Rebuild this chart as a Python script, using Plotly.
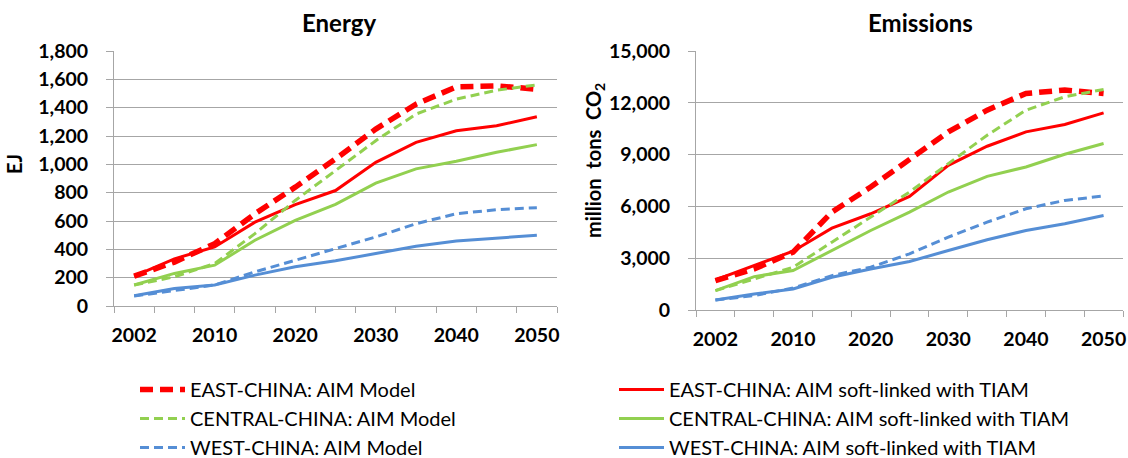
import plotly.graph_objects as go

years = ["2002", "2005", "2010", "2015", "2020", "2025", "2030", "2035", "2040", "2045", "2050"]
tick_years = ["2002", "2010", "2020", "2030", "2040", "2050"]

# Energy (EJ)
energy_east_aim = [211, 310, 440, 651, 839, 1038, 1249, 1425, 1547, 1554, 1530]
energy_central_aim = [148, 206, 300, 511, 745, 956, 1167, 1355, 1460, 1523, 1561]
energy_west_aim = [70, 108, 148, 241, 323, 405, 487, 581, 651, 680, 694]
energy_east_tiam = [211, 333, 417, 592, 716, 815, 1014, 1155, 1237, 1272, 1336]
energy_central_tiam = [148, 230, 288, 464, 605, 717, 867, 968, 1022, 1085, 1139]
energy_west_tiam = [73, 124, 148, 218, 277, 319, 370, 422, 459, 478, 499]

# Emissions (million tons CO2)
emis_east_aim = [1700, 2380, 3350, 5670, 7122, 8767, 10316, 11574, 12542, 12735, 12542]
emis_central_aim = [1123, 1800, 2477, 3929, 5380, 6832, 8477, 10122, 11574, 12348, 12774]
emis_west_aim = [580, 832, 1277, 1993, 2477, 3252, 4219, 5090, 5864, 6348, 6600]
emis_east_tiam = [1742, 2574, 3406, 4742, 5574, 6580, 8380, 9484, 10316, 10742, 11419]
emis_central_tiam = [1123, 1935, 2284, 3445, 4606, 5671, 6832, 7742, 8284, 9019, 9639]
emis_west_tiam = [580, 929, 1219, 1897, 2380, 2806, 3445, 4065, 4606, 4994, 5477]

names = ["EAST-CHINA: AIM Model", "CENTRAL-CHINA: AIM Model", "WEST-CHINA: AIM Model",
         "EAST-CHINA: AIM soft-linked with TIAM", "CENTRAL-CHINA: AIM soft-linked with TIAM",
         "WEST-CHINA: AIM soft-linked with TIAM"]

RED, GREEN, BLUE = "#FF0000", "#92D050", "#558ED5"
styles = [
    dict(color=RED, width=5.5, dash="13px,7px"),
    dict(color=GREEN, width=3, dash="9px,5px"),
    dict(color=BLUE, width=3, dash="9px,5px"),
    dict(color=RED, width=3),
    dict(color=GREEN, width=3),
    dict(color=BLUE, width=3),
]
legends = ["legend", "legend", "legend", "legend2", "legend2", "legend2"]

x = list(range(len(years)))
tickvals = [years.index(t) for t in tick_years]

energy = [energy_east_aim, energy_central_aim, energy_west_aim,
          energy_east_tiam, energy_central_tiam, energy_west_tiam]
emis = [emis_east_aim, emis_central_aim, emis_west_aim,
        emis_east_tiam, emis_central_tiam, emis_west_tiam]

fig = go.Figure()
order = [3, 4, 5, 0, 1, 2]
for i in order:
    fig.add_trace(go.Scatter(x=x, y=energy[i], mode="lines", name=names[i], line=styles[i],
                             xaxis="x", yaxis="y", legend=legends[i], legendgroup=names[i],
                             legendrank=i, showlegend=True))
for i in order:
    fig.add_trace(go.Scatter(x=x, y=emis[i], mode="lines", name=names[i], line=styles[i],
                             xaxis="x2", yaxis="y2", legendgroup=names[i], showlegend=False))

FONT = "Lato"
GRID = "#A6A6A6"
tickfont = dict(family=FONT, size=19.5, color="black", weight="bold")

xcommon = dict(range=[-0.5, 10.5], tickmode="array", tickvals=tickvals, ticktext=tick_years,
               showgrid=False, showline=True, linecolor=GRID, linewidth=1,
               ticks="outside", ticklen=12, tickcolor="rgba(0,0,0,0)",
               minor=dict(tick0=-0.5, dtick=1, ticks="outside", ticklen=6, tickcolor=GRID, showgrid=False),
               tickfont=tickfont, zeroline=False, fixedrange=True, automargin=False)
ycommon = dict(showgrid=True, gridcolor=GRID, gridwidth=1, showline=True, linecolor=GRID,
               linewidth=1, ticks="outside", ticklen=7, tickcolor=GRID, tickformat=",",
               tickfont=tickfont, zeroline=False, ticklabelstandoff=14, automargin=False)

legfont = dict(family=FONT, size=20, color="black")
titlefont = dict(family=FONT, size=24, color="black", weight="bold")
axtitlefont = dict(family=FONT, size=20, color="black", weight="bold")
fig.update_layout(
    width=1128, height=458, margin=dict(l=0, r=0, t=0, b=0, autoexpand=False),
    paper_bgcolor="white", plot_bgcolor="white",
    xaxis=dict(domain=[114/1128, 557/1128], anchor="y", **xcommon),
    yaxis=dict(domain=[1-306/458, 1-51/458], anchor="x", range=[0, 1800], dtick=200, **ycommon),
    xaxis2=dict(domain=[696/1128, 1123/1128], anchor="y2", **xcommon),
    yaxis2=dict(domain=[1-310/458, 1-51/458], anchor="x2", range=[0, 15000], dtick=3000, **ycommon),
    legend=dict(x=135/1128, y=1-370/458, xref="container", yref="container",
                xanchor="left", yanchor="top", orientation="v", itemwidth=45,
                font=legfont, tracegroupgap=0, bgcolor="rgba(0,0,0,0)", traceorder="normal"),
    legend2=dict(x=614/1128, y=1-370/458, xref="container", yref="container",
                 xanchor="left", yanchor="top", orientation="v", itemwidth=45,
                 font=legfont, tracegroupgap=0, bgcolor="rgba(0,0,0,0)", traceorder="normal"),
    annotations=[
        dict(text="Energy", x=339/1128, y=1-22/458, xref="paper", yref="paper", showarrow=False,
             xanchor="center", yanchor="middle", font=titlefont),
        dict(text="Emissions", x=920/1128, y=1-22/458, xref="paper", yref="paper", showarrow=False,
             xanchor="center", yanchor="middle", font=titlefont),
        dict(text="EJ", x=14/1128, y=1-164/458, xref="paper", yref="paper", showarrow=False,
             xanchor="center", yanchor="middle", textangle=-90, font=axtitlefont),
        dict(text="million  tons  CO<sub>2</sub>", x=594/1128, y=1-161/458, xref="paper", yref="paper",
             showarrow=False, xanchor="center", yanchor="middle", textangle=-90, font=axtitlefont),
    ],
)

fig.write_html("out.html", config={"displayModeBar": False},
               post_script="document.body.style.margin='0';")
